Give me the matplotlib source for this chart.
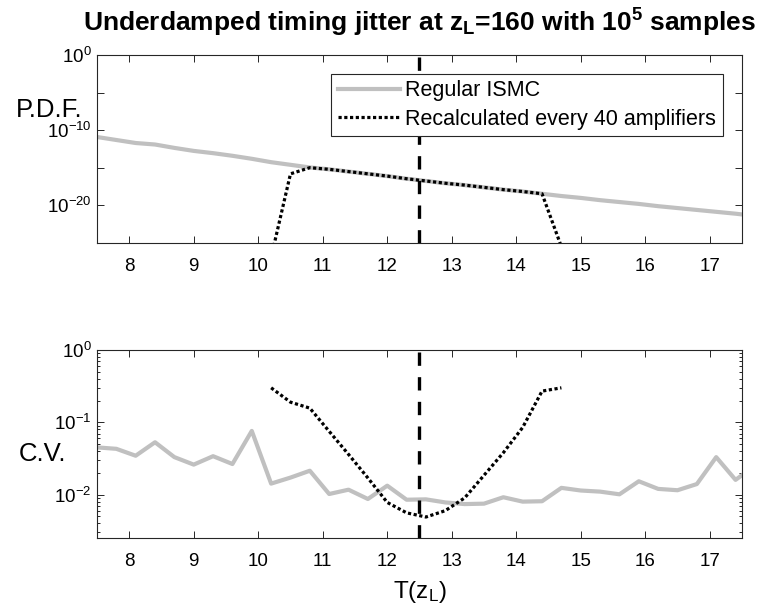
import matplotlib

matplotlib.use("Agg")

import matplotlib.pyplot as plt
import numpy as np
from matplotlib.ticker import FixedLocator, LogFormatterSciNotation, NullFormatter, LogLocator

plt.rcParams["font.family"] = ["Liberation Sans", "DejaVu Sans"]
plt.rcParams["mathtext.fontset"] = "custom"
plt.rcParams["mathtext.rm"] = "Liberation Sans"
plt.rcParams["mathtext.it"] = "Liberation Sans:italic"
plt.rcParams["mathtext.bf"] = "Liberation Sans:bold"

# timing grid (both methods share it)
t_regular = [7.5, 7.8, 8.1, 8.4, 8.7, 9.0, 9.3, 9.6, 9.9, 10.2, 10.5, 10.8,
             11.1, 11.4, 11.7, 12.0, 12.3, 12.6, 12.9, 13.2, 13.5, 13.8,
             14.1, 14.4, 14.7, 15.0, 15.3, 15.6, 15.9, 16.2, 16.5, 16.8,
             17.1, 17.4, 17.7]
t_recalc = [10.2, 10.5, 10.8, 11.1, 11.4, 11.7, 12.0, 12.3, 12.6, 12.9,
            13.2, 13.5, 13.8, 14.1, 14.4, 14.7]

# log10 of P.D.F.
pdf_regular_exp = [-10.9, -11.3, -11.7, -11.9, -12.35, -12.75, -13.05, -13.4,
                   -13.8, -14.25, -14.6, -14.95, -15.2, -15.5, -15.8, -16.1,
                   -16.45, -16.75, -17.05, -17.3, -17.6, -17.9, -18.15, -18.45,
                   -18.75, -19.0, -19.3, -19.55, -19.8, -20.1, -20.35, -20.6,
                   -20.85, -21.1, -21.4]
pdf_recalc_exp = [-26.9, -15.8, -14.98, -15.2, -15.5, -15.8, -16.1, -16.45,
                  -16.75, -17.05, -17.3, -17.6, -17.9, -18.15, -18.45, -25.5]

cv_regular = [0.045, 0.043, 0.0345, 0.053, 0.033, 0.026, 0.034, 0.0265, 0.076,
              0.0142, 0.0172, 0.0214, 0.0102, 0.0117, 0.0087, 0.0133, 0.0085,
              0.0086, 0.0078, 0.0074, 0.0075, 0.0092, 0.0080, 0.0081, 0.0124,
              0.0114, 0.0110, 0.0101, 0.0153, 0.0120, 0.0115, 0.0140, 0.033,
              0.016, 0.025]
cv_recalc = [0.30, 0.19, 0.157, 0.075, 0.036, 0.017, 0.0078, 0.0056, 0.0049,
             0.0060, 0.0090, 0.0185, 0.038, 0.085, 0.27, 0.30]

t_mean = 12.5
xticks = [8, 9, 10, 11, 12, 13, 14, 15, 16, 17]

GRAY = "#c0c0c0"
AXC = "#262626"
dotted = (0, (1.0, 0.8))
dashed = (0, (4.0, 3.4))


def style_axis(ax):
    ax.set_xlim(7.5, 17.5)
    ax.set_xticks(xticks)
    ax.tick_params(which="both", direction="in", top=True, right=True,
                   colors=AXC, labelcolor="black", labelsize=13.5, width=0.7)
    ax.tick_params(axis="x", which="major", length=5, pad=11)
    ax.tick_params(axis="y", which="major", length=5, pad=4)
    for s in ax.spines.values():
        s.set_color(AXC)
        s.set_linewidth(0.8)


fig = plt.figure(figsize=(7.69, 6.12), dpi=100)
ax1 = fig.add_axes([0.1261, 0.6029, 0.8388, 0.3072])
ax2 = fig.add_axes([0.1261, 0.1209, 0.8388, 0.3072])

# top: P.D.F.
ax1.semilogy(t_regular, 10.0 ** np.array(pdf_regular_exp), color=GRAY, lw=3.0,
             label="Regular ISMC")
ax1.semilogy(t_recalc, 10.0 ** np.array(pdf_recalc_exp), color="black", lw=2.3,
             ls=dotted, label="Recalculated every 40 amplifiers")
ax1.axvline(t_mean, color="black", lw=2.4, ls=dashed)
ax1.set_ylim(1e-25, 1)
ax1.yaxis.set_major_locator(FixedLocator([1e-20, 1e-10, 1e0]))
ax1.yaxis.set_major_formatter(LogFormatterSciNotation())
ax1.yaxis.set_minor_locator(FixedLocator([1e-25, 1e-15, 1e-5]))
ax1.yaxis.set_minor_formatter(NullFormatter())
style_axis(ax1)
ax1.tick_params(axis="y", which="minor", length=5)
ax1.set_ylabel("P.D.F.", rotation=0, fontsize=18.5, ha="right", va="center")
ax1.yaxis.set_label_coords(-0.023, 0.707)
leg = ax1.legend(loc="upper right", bbox_to_anchor=(0.970, 0.899), fontsize=15.5,
                 frameon=True, fancybox=False, edgecolor=AXC, framealpha=1,
                 handlelength=2.9, handletextpad=0.25, borderpad=0.3,
                 labelspacing=0.35, borderaxespad=0)
leg.get_frame().set_linewidth(0.8)
ax1.set_title(r"Underdamped timing jitter at $\mathbf{z_L}$=160 with $\mathbf{10^5}$ samples",
              fontsize=19, fontweight="bold", pad=17)

# bottom: C.V.
ax2.semilogy(t_regular, cv_regular, color=GRAY, lw=3.0)
ax2.semilogy(t_recalc, cv_recalc, color="black", lw=2.3, ls=dotted)
ax2.axvline(t_mean, color="black", lw=2.4, ls=dashed)
ax2.set_ylim(10 ** -2.6, 1)
ax2.yaxis.set_major_locator(LogLocator(base=10))
ax2.yaxis.set_minor_locator(LogLocator(base=10, subs=np.arange(2, 10)))
ax2.yaxis.set_minor_formatter(NullFormatter())
style_axis(ax2)
ax2.tick_params(axis="y", which="minor", length=2.5)
ax2.set_ylabel("C.V.", rotation=0, fontsize=18.5, ha="right", va="center")
ax2.yaxis.set_label_coords(-0.047, 0.447)
ax2.set_xlabel(r"T(z$_\mathrm{L}$)", fontsize=17.5, labelpad=6)

fig.savefig("out.png", dpi=100)
plt.close(fig)
